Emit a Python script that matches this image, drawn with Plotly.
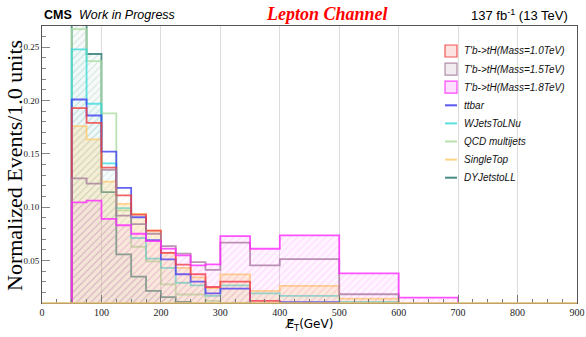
import plotly.graph_objects as go

# ---------------- data ----------------
bin_edges = [50, 75, 100, 125, 150, 175, 200, 225, 250, 275, 300, 350, 400, 500, 600, 700]

tp_m10 = [0.193, 0.179, 0.137, 0.111, 0.093, 0.078, 0.057, 0.046, 0.037, 0.025, 0.030, 0.012, 0.008, 0.004, 0.001]
tp_m15 = [0.127, 0.122, 0.135, 0.092, 0.084, 0.075, 0.0634, 0.0563, 0.0484, 0.041, 0.0666, 0.0453, 0.0512, 0.0182, 0.006]
tp_m18 = [0.1045, 0.106, 0.089, 0.083, 0.075, 0.068, 0.061, 0.0547, 0.0453, 0.0462, 0.0727, 0.0609, 0.0734, 0.0378, 0.015]
ttbar = [0.201, 0.186, 0.152, 0.118, 0.0905, 0.069, 0.051, 0.037, 0.030, 0.019, 0.0235, 0.009, 0.0108, 0.003, 0.0]
wjets = [0.248, 0.197, 0.141, 0.099, 0.071, 0.0516, 0.043, 0.029, 0.0266, 0.0167, 0.0266, 0.019, 0.0167, 0.011, 0.002]
qcd = [0.267, 0.237, 0.188, 0.097, 0.0628, 0.049, 0.0275, 0.018, 0.018, 0.012, 0.010, 0.006, 0.004, 0.002, 0.0]
singletop = [0.176, 0.1635, 0.124, 0.103, 0.0936, 0.078, 0.057, 0.043, 0.034, 0.024, 0.0369, 0.0213, 0.026, 0.0141, 0.009]
dyjets = [0.32, 0.2437, 0.114, 0.0556, 0.0347, 0.0213, 0.0156, 0.011, 0.008, 0.005, 0.004, 0.002, 0.001, 0.0, 0.0]

series_names = ["T'b->tH(Mass=1.0TeV)", "T'b->tH(Mass=1.5TeV)", "T'b->tH(Mass=1.8TeV)",
                "ttbar", "WJetsToLNu", "QCD multijets", "SingleTop", "DYJetstoLL"]
series_values = [tp_m10, tp_m15, tp_m18, ttbar, wjets, qcd, singletop, dyjets]
series_rgb = [(240, 60, 60), (165, 125, 155), (255, 40, 255), (60, 60, 240),
              (60, 220, 220), (170, 220, 160), (255, 205, 110), (40, 120, 110)]
# fill strength (hatch alpha, background alpha)
series_fill = [(0.06, 0.0), (0.06, 0.0), (0.28, 0.05), (0.08, 0.0),
               (0.22, 0.04), (0.06, 0.0), (0.3, 0.26), (0.35, 0.04)]
is_signal = [True, True, True, False, False, False, False, False]

x_ticks = [0, 100, 200, 300, 400, 500, 600, 700, 800, 900]
y_ticks = [0.05, 0.10, 0.15, 0.20, 0.25]

# ---------------- geometry ----------------
W, H = 586, 337
ML, MR, MT, MB = 42, 9, 26, 34
PW, PH = W - ML - MR, H - MT - MB


def px(xp):
    return (xp - ML) / PW


def py(yp):
    return (H - MB - yp) / PH


def rgba(c, a):
    return f"rgba({c[0]},{c[1]},{c[2]},{a})"


fig = go.Figure()

# histograms drawn as step lines with hatched fill
draw_order = [7, 5, 4, 6, 3, 0, 1, 2]
for i in draw_order:
    vals = series_values[i]
    xs = [bin_edges[0]] + bin_edges[:-1] + [bin_edges[-1]]
    ys = [0] + vals + [0]
    c = series_rgb[i]
    fa, ba = series_fill[i]
    fig.add_trace(go.Scatter(
        x=xs, y=ys, mode="lines", line=dict(shape="hv", color=rgba(c, 0.8), width=1.8),
        fill="tozeroy", fillcolor=rgba(c, ba),
        fillpattern=dict(shape="/", fgcolor=rgba(c, fa), bgcolor=rgba(c, ba), size=5, solidity=0.2),
        showlegend=False, hoverinfo="skip"))

# ---------------- custom legend ----------------
shapes = []
annotations = []
leg_y0, leg_dy = 51, 18.1
for k, name in enumerate(series_names):
    yc = leg_y0 + k * leg_dy
    c = series_rgb[k]
    if is_signal[k]:
        shapes.append(dict(type="rect", xref="paper", yref="paper",
                           x0=px(445), x1=px(457), y0=py(yc + 6), y1=py(yc - 6),
                           line=dict(color=rgba(c, 0.85), width=1.2), fillcolor=rgba(c, 0.15)))
    else:
        shapes.append(dict(type="line", xref="paper", yref="paper",
                           x0=px(445), x1=px(457), y0=py(yc), y1=py(yc),
                           line=dict(color=rgba(c, 0.85), width=2)))
    annotations.append(dict(text=f"<i>{name}</i>", xref="paper", yref="paper",
                            x=px(462), y=py(yc), xanchor="left", yanchor="middle",
                            showarrow=False, font=dict(family="Liberation Sans", size=10, color="#111")))

# bottom frame line (SingleTop zero level)
shapes.append(dict(type="line", xref="paper", yref="paper", x0=0, x1=1, y0=0, y1=0,
                   line=dict(color="rgba(225,190,110,1)", width=1.5)))

# header texts
annotations += [
    dict(text="<b>CMS</b>", xref="paper", yref="paper", x=px(42), y=py(15), xanchor="left", yanchor="middle",
         showarrow=False, font=dict(family="Liberation Sans", size=12.5, color="#000")),
    dict(text="<i>Work in Progress</i>", xref="paper", yref="paper", x=px(77), y=py(15), xanchor="left",
         yanchor="middle", showarrow=False, font=dict(family="Liberation Sans", size=12.5, color="#000")),
    dict(text="<b><i>Lepton Channel</i></b>", xref="paper", yref="paper", x=px(327), y=py(14), xanchor="center",
         yanchor="middle", showarrow=False, font=dict(family="Liberation Serif", size=18, color="#ff0000")),
    dict(text="137 fb<sup>-1</sup> (13 TeV)", xref="paper", yref="paper", x=px(570), y=py(15), xanchor="right",
         yanchor="middle", showarrow=False, font=dict(family="Liberation Sans", size=13, color="#000")),
    dict(text="Normalized Events/1.0 units", xref="paper", yref="paper", x=px(14), y=py(166), textangle=-90,
         xanchor="center", yanchor="middle", showarrow=False,
         font=dict(family="Liberation Serif", size=22, color="#000")),
    dict(text="E\u0338\u20d7<sub>T</sub>(GeV)", xref="paper", yref="paper", x=px(309), y=py(325),
         xanchor="center", yanchor="middle", showarrow=False,
         font=dict(family="DejaVu Sans", size=12, color="#000")),
]

fig.update_layout(
    width=W, height=H, margin=dict(l=ML, r=MR, t=MT, b=MB, autoexpand=False),
    paper_bgcolor="white", plot_bgcolor="white",
    shapes=shapes, annotations=annotations, showlegend=False,
    xaxis=dict(range=[0, 900], tickvals=x_ticks, ticktext=[str(v) for v in x_ticks], automargin=False,
               ticks="inside", ticklen=8, tickcolor="#777", showline=True, linecolor="#555", linewidth=1,
               mirror=True, showgrid=True, gridcolor="#dcdcdc", gridwidth=1, zeroline=False,
               minor=dict(ticks="inside", dtick=25, tick0=0, ticklen=4, tickcolor="#777", showgrid=False),
               tickfont=dict(family="Liberation Serif", size=10, color="#222")),
    yaxis=dict(range=[0.01, 0.27], tickvals=y_ticks, ticktext=[f"{v:.2f}" for v in y_ticks], automargin=False,
               ticks="inside", ticklen=8, tickcolor="#888", showline=True, linecolor="#555", linewidth=1,
               mirror=True, showgrid=False, zeroline=False,
               minor=dict(ticks="inside", dtick=0.01, tick0=0, ticklen=4, tickcolor="#888"),
               tickfont=dict(family="Liberation Serif", size=9, color="#222")),
)

fig.write_html("out.html", config={"displayModeBar": False},
               post_script="document.body.style.margin='0px';document.body.style.overflow='hidden';")
